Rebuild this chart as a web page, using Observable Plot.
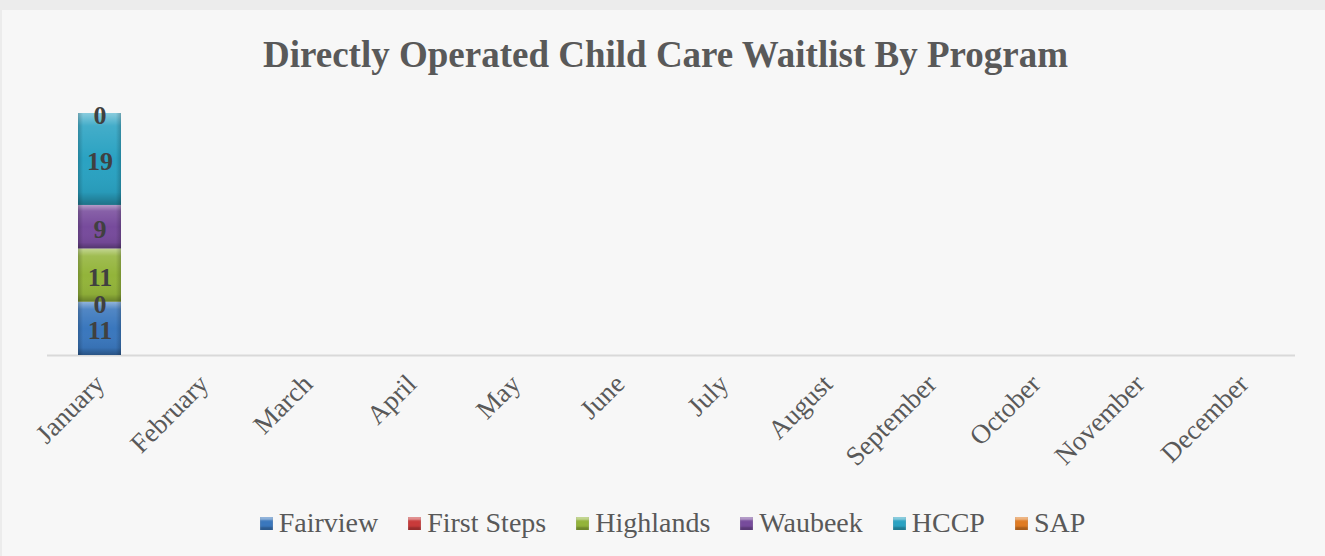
<!DOCTYPE html>
<html>
<head>
<meta charset="utf-8">
<script src="https://cdn.jsdelivr.net/npm/d3@7"></script>
<script src="https://cdn.jsdelivr.net/npm/@observablehq/plot@0.6"></script>
<style>
  html, body { margin: 0; padding: 0; background: #ececec; }
  #panel { position: absolute; left: 2px; top: 10px; width: 1323px; height: 546px; background: #f7f7f7; font-family: "Liberation Serif", serif; }
  #title { height: 90px; line-height: 90px; text-align: center; font-weight: bold; font-size: 37px; color: #595959; padding-left: 4px; font-family: "Liberation Serif", serif; }
  #legend { position: absolute; top: 493px; left: 0; width: 1323px; height: 40px; display: flex; justify-content: center; align-items: center; gap: 30px; font-size: 28px; color: #595959; padding-left: 18px; box-sizing: border-box; font-family: "Liberation Serif", serif; }
  .item { display: flex; align-items: center; }
  .sw { width: 13px; height: 13px; margin-right: 6px; box-shadow: inset 0 3px 2px rgba(255,255,255,0.45), inset 0 -3px 2px rgba(0,0,0,0.25); }
</style>
</head>
<body>
<div id="panel">
  <div id="title">Directly Operated Child Care Waitlist By Program</div>
  <div id="chart"></div>
  <div id="legend"></div>
</div>
<script>
const months = ["January","February","March","April","May","June","July","August","September","October","November","December"];
const programs = ["Fairview","First Steps","Highlands","Waubeek","HCCP","SAP"];
const colors = ["#3a77bd","#c93a3a","#93b43a","#774b9c","#2aa2c2","#e07b22"];
// January values per program (other months have no data)
const januaryValues = [11, 0, 11, 9, 19, 0];

const data = programs.map((p, i) => ({month: "January", program: p, value: januaryValues[i]}));

const gradientDefs = () => {
  const ns = "http://www.w3.org/2000/svg";
  const defs = document.createElementNS(ns, "defs");
  defs.innerHTML = `
    <linearGradient id="shineV" x1="0" y1="0" x2="0" y2="1">
      <stop offset="0" stop-color="#fff" stop-opacity="0.45"/>
      <stop offset="0.14" stop-color="#fff" stop-opacity="0.12"/>
      <stop offset="0.5" stop-color="#fff" stop-opacity="0"/>
      <stop offset="0.86" stop-color="#000" stop-opacity="0.05"/>
      <stop offset="1" stop-color="#000" stop-opacity="0.3"/>
    </linearGradient>
    <linearGradient id="shineH" x1="0" y1="0" x2="1" y2="0">
      <stop offset="0" stop-color="#000" stop-opacity="0.2"/>
      <stop offset="0.12" stop-color="#000" stop-opacity="0"/>
      <stop offset="0.88" stop-color="#000" stop-opacity="0"/>
      <stop offset="1" stop-color="#000" stop-opacity="0.2"/>
    </linearGradient>`;
  return defs;
};

const chart = Plot.plot({
  width: 1323,
  height: 400,
  marginTop: 13,
  marginBottom: 145,
  marginLeft: 45,
  marginRight: 30,
  style: {fontFamily: "'Liberation Serif', serif", fontSize: "26px", color: "#595959", background: "transparent", overflow: "visible"},
  x: {domain: months, paddingInner: 0.587, paddingOuter: 0.2935, label: null},
  y: {domain: [0, 50], axis: null},
  color: {domain: programs, range: colors},
  marks: [
    gradientDefs,
    Plot.ruleY([0], {stroke: "#d9d9d9", strokeWidth: 2}),
    Plot.barY(data, {x: "month", y: "value", fill: "program", order: programs}),
    Plot.barY(data, {x: "month", y: "value", z: "program", order: programs, fill: "url(#shineV)"}),
    Plot.barY(data, {x: "month", y: "value", z: "program", order: programs, fill: "url(#shineH)"}),
    Plot.text(data, Plot.stackY({x: "month", y: "value", z: "program", order: programs, text: d => String(d.value), fontWeight: "bold", fontSize: 26, fill: "#404040", dy: 2})),
    Plot.axisX({tickSize: 0, tickRotate: -45, tickPadding: 24, fontSize: 27, fill: "#595959", label: null, fontFamily: "'Liberation Serif', serif"})
  ]
});
document.getElementById("chart").appendChild(chart);

const legend = document.getElementById("legend");
programs.forEach((p, i) => {
  const item = document.createElement("div");
  item.className = "item";
  const sw = document.createElement("span");
  sw.className = "sw";
  sw.style.background = colors[i];
  const t = document.createElement("span");
  t.textContent = p;
  item.appendChild(sw);
  item.appendChild(t);
  legend.appendChild(item);
});
</script>
</body>
</html>
